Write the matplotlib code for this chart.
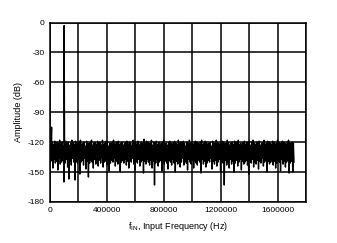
import numpy as np
import matplotlib
matplotlib.use("Agg")
import matplotlib.pyplot as plt

plt.rcParams['font.family'] = ['Liberation Sans', 'DejaVu Sans']
plt.rcParams['axes.unicode_minus'] = False

# noise floor: upper and lower envelope samples, one pair per bin
noise_top = [
    -118,-121,-120,-122,-119,-123,-120,-121,-118,-122,-120,-124,-121,-119,-122,-120,-123,-121,-118,-120,
    -122,-119,-121,-123,-120,-118,-122,-121,-120,-124,-119,-121,-122,-120,-118,-123,-121,-120,-122,-119,
    -121,-120,-123,-118,-122,-121,-119,-120,-124,-121,-122,-120,-118,-121,-123,-120,-119,-122,-121,-120,
    -123,-121,-120,-119,-122,-120,-121,-124,-118,-121,-120,-122,-119,-123,-121,-120,-122,-117,-121,-119,
    -120,-122,-121,-118,-123,-120,-121,-119,-122,-120,-124,-121,-120,-118,-122,-121,-123,-120,-119,-121,
    -122,-120,-119,-121,-123,-118,-121,-120,-122,-119,-121,-124,-120,-122,-118,-121,-120,-123,-121,-119,
    -120,-121,-122,-120,-118,-123,-121,-119,-120,-122,-121,-120,-124,-119,-121,-122,-118,-120,-121,-123,
    -121,-119,-120,-122,-121,-118,-120,-123,-121,-120,-122,-119,-121,-120,-118,-122,-121,-124,-120,-119,
    -122,-120,-121,-119,-123,-120,-118,-121,-122,-120,-121,-119,-123,-121,-120,-118,-122,-121,-119,-120,
    -121,-122,-119,-120,-123,-121,-118,-120,-122,-121,-119,-120,-121,-123,-120,-118,-121,-122,-120,-121,
]
noise_bot = [
    -140,-138,-146,-137,-141,-139,-148,-136,-142,-140,-138,-160,-141,-137,-145,-157,-139,-143,-136,-140,
    -158,-139,-141,-137,-152,-140,-138,-143,-136,-147,-139,-155,-141,-138,-140,-146,-137,-142,-139,-144,
    -138,-141,-136,-145,-140,-139,-143,-137,-149,-141,-138,-140,-136,-144,-139,-142,-137,-150,-140,-138,
    -141,-137,-143,-139,-146,-138,-140,-136,-142,-148,-139,-141,-137,-144,-140,-138,-151,-139,-142,-137,
    -140,-143,-138,-146,-139,-163,-141,-137,-144,-140,-138,-149,-136,-142,-139,-141,-147,-138,-140,-143,
    -137,-141,-150,-139,-142,-138,-145,-140,-136,-143,-139,-141,-148,-137,-140,-142,-138,-146,-139,-141,
    -143,-138,-140,-151,-137,-142,-139,-145,-141,-138,-140,-136,-147,-139,-142,-138,-144,-140,-137,-149,
    -139,-141,-163,-138,-143,-140,-146,-137,-142,-139,-150,-141,-138,-144,-140,-137,-148,-139,-142,-140,
    -138,-143,-152,-139,-141,-137,-145,-140,-142,-138,-147,-139,-141,-136,-144,-140,-138,-150,-139,-142,
    -140,-137,-143,-139,-146,-141,-138,-140,-149,-137,-142,-139,-145,-140,-138,-151,-141,-139,-150,-140,
]
bin_hz = 8600

# tones
tone_freq = [12000, 100000]
tone_amp = [-105, -3]

nb = len(noise_top)
f_top = np.arange(nb) * bin_hz
f_bot = f_top + bin_hz / 2
freq = np.concatenate([f_top, f_bot, tone_freq])
amp = np.concatenate([noise_top, noise_bot, tone_amp])
order = np.argsort(freq, kind="stable")
freq = freq[order]
amp = amp[order]

fig = plt.figure(figsize=(3.37, 2.43), dpi=100)
ax = fig.add_axes([0.148, 0.169, 0.760, 0.738])
ax.plot(freq, amp, color="black", lw=1.0)

ax.set_xlim(0, 1800000)
ax.set_ylim(-180, 0)
ax.set_xticks([0, 400000, 800000, 1200000, 1600000])
ax.set_xticks(np.arange(0, 1800001, 200000), minor=True)
ax.set_yticks(np.arange(-180, 1, 30))
ax.grid(True, which="both", color="black", lw=1.1)
ax.tick_params(which="both", length=0, labelsize=6, pad=4)
ax.ticklabel_format(axis="x", style="plain")
for s in ax.spines.values():
    s.set_linewidth(1.1)

ax.set_xlabel("f$_{\\mathregular{IN}}$, Input Frequency (Hz)", fontsize=6.5, labelpad=4)
ax.set_ylabel("Amplitude (dB)", fontsize=6.5, labelpad=3)

fig.savefig("out.png", dpi=100)
